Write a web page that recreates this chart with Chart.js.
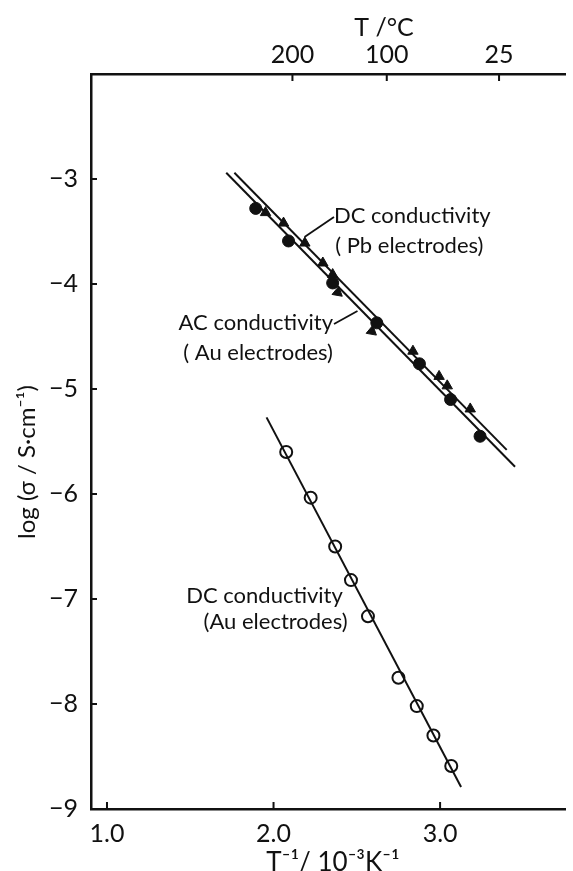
<!DOCTYPE html>
<html>
<head>
<meta charset="utf-8">
<script src="https://cdn.jsdelivr.net/npm/chart.js@4.4.1/dist/chart.umd.min.js"></script>
<style>
  html, body { margin: 0; padding: 0; background: #fff; }
  #wrap { width: 573px; height: 871px; }
</style>
</head>
<body>
<div id="wrap"><canvas id="chartCond"></canvas></div>
<script>
// x: T^-1 / 10^-3 K^-1, y: log(sigma / S cm^-1)
const X_TICKS = [1, 2, 3];
const Y_TICKS = [-9, -8, -7, -6, -5, -4, -3];
const TOP_TEMPS = [200, 100, 25];

// AC conductivity (Au electrodes), filled circles
const AC_X = [1.893, 2.09, 2.355, 2.62, 2.876, 3.063, 3.24];
const AC_Y = [-3.28, -3.59, -3.99, -4.37, -4.76, -5.10, -5.45];
const AC_TRI_X = [2.385, 2.59];
const AC_TRI_Y = [-4.08, -4.45];
// DC conductivity (Pb electrodes), filled triangles
const PB_X = [1.952, 2.06, 2.188, 2.296, 2.355, 2.837, 2.994, 3.043, 3.181];
const PB_Y = [-3.32, -3.42, -3.61, -3.80, -3.91, -4.64, -4.88, -4.97, -5.19];
// DC conductivity (Au electrodes), open circles
const AU_X = [2.076, 2.223, 2.37, 2.465, 2.567, 2.75, 2.86, 2.96, 3.067];
const AU_Y = [-5.60, -6.035, -6.50, -6.82, -7.165, -7.75, -8.02, -8.30, -8.59];

// fitted straight lines (end points)
const LINE_AC_X = [1.716, 3.45];
const LINE_AC_Y = [-2.94, -5.74];
const LINE_PB_X = [1.765, 3.40];
const LINE_PB_Y = [-2.94, -5.58];
const LINE_AU_X = [1.958, 3.126];
const LINE_AU_Y = [-5.27, -8.79];

const ink = '#111';
const FONT = 'Lato, "Open Sans", sans-serif';

const pts = (xs, ys) => xs.map((x, i) => ({ x: x, y: ys[i] }));

const notes = [
  { text: 'DC conductivity', x: 2.363, y: -3.352, align: 'left' },
  { text: '( Pb electrodes)', x: 2.37, y: -3.638, align: 'left' },
  { text: 'AC conductivity', x: 2.357, y: -4.371, align: 'right' },
  { text: '( Au electrodes)', x: 2.357, y: -4.657, align: 'right' },
  { text: 'DC conductivity', x: 2.416, y: -6.97, align: 'right' },
  { text: '(Au electrodes)', x: 2.445, y: -7.22, align: 'right' }
];
const leaders = [
  [[2.363, -3.362], [2.186, -3.552]],
  [[2.363, -4.381], [2.504, -4.257]]
];

const decor = {
  id: 'decor',
  beforeDraw(chart) {
    const c = chart.ctx;
    c.save();
    c.fillStyle = '#fff';
    c.fillRect(0, 0, chart.width, chart.height);
    c.restore();
  },
  afterDraw(chart) {
    const c = chart.ctx;
    const sx = chart.scales.x, sy = chart.scales.y, st = chart.scales.xTop;
    const a = chart.chartArea;
    c.save();
    c.strokeStyle = ink;
    c.lineWidth = 2;
    // inward tick marks
    c.beginPath();
    X_TICKS.forEach(v => {
      const px = sx.getPixelForValue(v);
      c.moveTo(px, a.bottom); c.lineTo(px, a.bottom - 7);
    });
    st.ticks.forEach(t => {
      const px = st.getPixelForValue(t.value);
      c.moveTo(px, a.top); c.lineTo(px, a.top + 7);
    });
    Y_TICKS.forEach(v => {
      const py = sy.getPixelForValue(v);
      c.moveTo(a.left, py); c.lineTo(a.left + 6, py);
    });
    c.stroke();

    // leader lines
    c.lineWidth = 1.8;
    leaders.forEach(l => {
      c.beginPath();
      c.moveTo(sx.getPixelForValue(l[0][0]), sy.getPixelForValue(l[0][1]));
      c.lineTo(sx.getPixelForValue(l[1][0]), sy.getPixelForValue(l[1][1]));
      c.stroke();
    });

    // labels
    c.fillStyle = ink;
    c.textBaseline = 'middle';
    c.font = '22px ' + FONT;
    notes.forEach(n => {
      c.textAlign = n.align;
      c.fillText(n.text, sx.getPixelForValue(n.x), sy.getPixelForValue(n.y));
    });

    // axis titles
    c.font = '25px ' + FONT;
    c.textAlign = 'center';
    c.fillText('T /°C', 384, 28);
    c.textBaseline = 'alphabetic';
    c.font = '26px ' + FONT;
    c.fillText('T\u207B\u00B9/ 10\u207B\u00B3K\u207B\u00B9', 333, 871);
    c.translate(27, 462);
    c.rotate(-Math.PI / 2);
    c.textBaseline = 'middle';
    c.font = '24px ' + FONT;
    c.fillText('log (σ / S·cm\u207B\u00B9)', 0, 0);
    c.restore();
  }
};

const lineSet = (xs, ys) => ({
  data: pts(xs, ys), showLine: true, borderColor: ink, borderWidth: 2,
  pointRadius: 0, fill: false
});

new Chart(document.getElementById('chartCond'), {
  type: 'scatter',
  data: {
    datasets: [
      lineSet(LINE_AC_X, LINE_AC_Y),
      lineSet(LINE_PB_X, LINE_PB_Y),
      lineSet(LINE_AU_X, LINE_AU_Y),
      {
        label: 'AC conductivity (Au electrodes)', data: pts(AC_X, AC_Y),
        pointStyle: 'circle', pointRadius: 6, backgroundColor: ink, borderColor: ink
      },
      {
        label: 'AC conductivity (Au electrodes)', data: pts(AC_TRI_X, AC_TRI_Y),
        pointStyle: 'triangle', rotation: 250, pointRadius: 6, backgroundColor: ink, borderColor: ink
      },
      {
        label: 'DC conductivity (Pb electrodes)', data: pts(PB_X, PB_Y),
        pointStyle: 'triangle', rotation: 120, pointRadius: 6, backgroundColor: ink, borderColor: ink
      },
      {
        label: 'DC conductivity (Au electrodes)', data: pts(AU_X, AU_Y),
        pointStyle: 'circle', pointRadius: 6, backgroundColor: '#fff', borderColor: ink, borderWidth: 2
      }
    ]
  },
  options: {
    responsive: true,
    maintainAspectRatio: false,
    animation: false,
    layout: { padding: 0 },
    plugins: { legend: { display: false }, tooltip: { enabled: false } },
    scales: {
      x: {
        type: 'linear', position: 'bottom', min: 0.904, max: 3.75,
        afterBuildTicks: s => { s.ticks = X_TICKS.map(v => ({ value: v })); },
        afterFit: s => { s.height = 62; },
        ticks: {
          callback: v => v.toFixed(1), color: ink, padding: 10,
          maxRotation: 0, autoSkip: false, font: { family: FONT, size: 25 }
        },
        grid: { display: false, drawTicks: false },
        border: { display: true, width: 2.5, color: ink }
      },
      xTop: {
        type: 'linear', position: 'top', axis: 'x', min: 0.904, max: 3.75,
        afterBuildTicks: s => { s.ticks = TOP_TEMPS.map(t => ({ value: 1000 / (t + 273.15) })); },
        afterFit: s => { s.height = 74; },
        ticks: {
          callback: (v, i) => String(TOP_TEMPS[i]), color: ink, padding: 4,
          maxRotation: 0, autoSkip: false, font: { family: FONT, size: 25 }
        },
        grid: { display: false, drawTicks: false },
        border: { display: true, width: 2.5, color: ink }
      },
      y: {
        type: 'linear', position: 'left', min: -9, max: -2,
        afterBuildTicks: s => { s.ticks = Y_TICKS.map(v => ({ value: v })); },
        afterFit: s => { s.width = 91; },
        ticks: {
          callback: v => '\u2212' + Math.abs(v), color: ink, padding: 13,
          font: { family: FONT, size: 25 }
        },
        grid: { display: false, drawTicks: false },
        border: { display: true, width: 2.5, color: ink }
      }
    }
  },
  plugins: [decor]
});
</script>
</body>
</html>
